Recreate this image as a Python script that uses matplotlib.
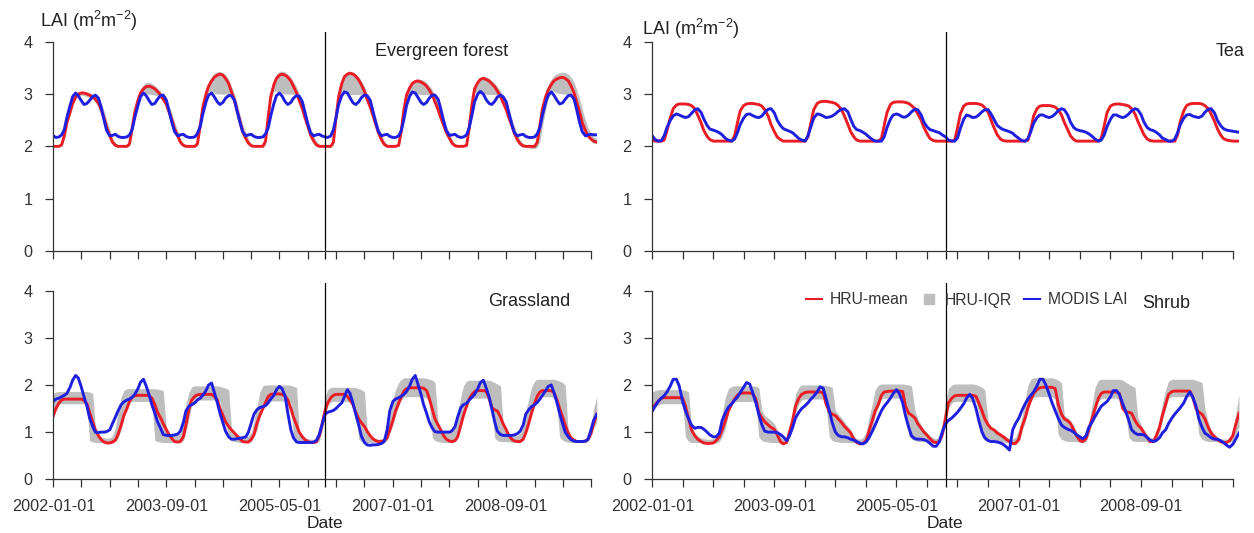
import pandas as pd
import matplotlib
matplotlib.use("Agg")
import matplotlib.pyplot as plt
import matplotlib.dates as mdates
from matplotlib.lines import Line2D

plt.rcParams['font.family'] = ['Liberation Sans', 'DejaVu Sans']
plt.rcParams['mathtext.default'] = 'regular'

# half-month steps (1st and 15th), 2002-01-01 .. 2010-01-01
dates = pd.date_range('2002-01-01', periods=193, freq='SMS')
split_date = pd.Timestamp('2006-01-01')
tick_dates = pd.date_range('2002-01-01', '2009-12-01', freq='5MS')
tick_labels = [d.strftime('%Y-%m-%d') if i % 4 == 0 else '' for i, d in enumerate(tick_dates)]

# ---- Evergreen forest ----
ever_mean = [
    2.00, 2.00, 2.00, 2.03, 2.20, 2.45, 2.65, 2.82, 2.94, 3.00, 3.02, 3.02, 3.00, 2.98, 2.95, 2.90, 2.82, 2.70, 2.54, 2.36, 2.20, 2.08, 2.02, 2.00,
    2.00, 2.00, 2.00, 2.05, 2.35, 2.65, 2.88, 3.02, 3.10, 3.14, 3.15, 3.13, 3.10, 3.05, 2.98, 2.90, 2.80, 2.66, 2.50, 2.33, 2.20, 2.08, 2.02, 2.00,
    2.00, 2.00, 2.00, 2.05, 2.40, 2.75, 3.00, 3.15, 3.25, 3.32, 3.36, 3.38, 3.36, 3.30, 3.20, 3.05, 2.88, 2.68, 2.47, 2.28, 2.15, 2.06, 2.01, 2.00,
    2.00, 2.00, 2.00, 2.10, 2.55, 2.95, 3.18, 3.30, 3.36, 3.38, 3.36, 3.32, 3.25, 3.15, 3.02, 2.88, 2.72, 2.55, 2.38, 2.22, 2.10, 2.03, 2.00, 2.00,
    2.00, 2.00, 2.00, 2.08, 2.55, 2.95, 3.20, 3.33, 3.38, 3.40, 3.38, 3.34, 3.27, 3.18, 3.05, 2.90, 2.75, 2.60, 2.42, 2.26, 2.12, 2.04, 2.00, 2.00,
    2.00, 2.00, 2.02, 2.30, 2.70, 2.98, 3.12, 3.20, 3.24, 3.25, 3.23, 3.20, 3.15, 3.08, 2.98, 2.85, 2.70, 2.55, 2.40, 2.27, 2.15, 2.06, 2.01, 2.00,
    2.00, 2.00, 2.02, 2.35, 2.80, 3.10, 3.22, 3.28, 3.30, 3.28, 3.25, 3.20, 3.14, 3.06, 2.96, 2.84, 2.70, 2.55, 2.40, 2.25, 2.12, 2.05, 2.01, 2.00,
    2.00, 2.00, 2.00, 2.08, 2.40, 2.72, 2.95, 3.08, 3.18, 3.25, 3.29, 3.31, 3.32, 3.30, 3.25, 3.16, 3.02, 2.85, 2.65, 2.45, 2.30, 2.20, 2.14, 2.10,
    2.08]
ever_modis = [
    2.20, 2.17, 2.18, 2.22, 2.32, 2.55, 2.78, 2.95, 3.02, 2.97, 2.87, 2.80, 2.82, 2.88, 2.95, 2.98, 2.92, 2.75, 2.50, 2.30, 2.20, 2.21, 2.23, 2.19,
    2.17, 2.17, 2.18, 2.22, 2.32, 2.55, 2.78, 2.95, 3.02, 2.97, 2.87, 2.80, 2.82, 2.90, 2.97, 2.98, 2.88, 2.68, 2.45, 2.28, 2.20, 2.22, 2.23, 2.19,
    2.17, 2.17, 2.18, 2.25, 2.38, 2.62, 2.85, 2.98, 3.02, 2.95, 2.85, 2.80, 2.84, 2.92, 2.97, 2.97, 2.88, 2.68, 2.45, 2.28, 2.20, 2.22, 2.23, 2.19,
    2.17, 2.17, 2.18, 2.24, 2.35, 2.58, 2.82, 2.97, 3.02, 2.96, 2.85, 2.80, 2.84, 2.92, 2.97, 2.96, 2.85, 2.65, 2.42, 2.26, 2.20, 2.22, 2.23, 2.20,
    2.18, 2.17, 2.20, 2.32, 2.55, 2.80, 2.97, 3.04, 3.02, 2.93, 2.83, 2.80, 2.85, 2.93, 2.98, 2.97, 2.88, 2.68, 2.45, 2.28, 2.20, 2.22, 2.23, 2.19,
    2.17, 2.17, 2.20, 2.30, 2.52, 2.78, 2.96, 3.04, 3.02, 2.94, 2.84, 2.80, 2.84, 2.92, 2.98, 2.98, 2.90, 2.72, 2.48, 2.30, 2.21, 2.22, 2.23, 2.19,
    2.17, 2.18, 2.22, 2.36, 2.60, 2.85, 3.00, 3.05, 3.00, 2.90, 2.82, 2.80, 2.86, 2.94, 2.98, 2.95, 2.85, 2.65, 2.42, 2.26, 2.20, 2.22, 2.23, 2.19,
    2.17, 2.17, 2.18, 2.24, 2.36, 2.60, 2.84, 2.98, 3.04, 2.98, 2.88, 2.81, 2.83, 2.90, 2.97, 2.98, 2.90, 2.70, 2.45, 2.28, 2.20, 2.22, 2.23, 2.22,
    2.22]
ever_hi = [
    2.03, 2.03, 2.03, 2.06, 2.25, 2.50, 2.70, 2.86, 2.97, 3.03, 3.05, 3.05, 3.04, 3.02, 2.99, 2.95, 2.90, 2.82, 2.68, 2.50, 2.32, 2.16, 2.06, 2.03,
    2.03, 2.03, 2.03, 2.08, 2.40, 2.72, 2.95, 3.10, 3.18, 3.22, 3.22, 3.20, 3.16, 3.11, 3.05, 2.98, 2.90, 2.78, 2.63, 2.46, 2.30, 2.15, 2.06, 2.03,
    2.03, 2.03, 2.03, 2.08, 2.45, 2.82, 3.08, 3.24, 3.33, 3.40, 3.43, 3.43, 3.41, 3.36, 3.28, 3.15, 3.00, 2.82, 2.61, 2.42, 2.26, 2.13, 2.05, 2.03,
    2.03, 2.03, 2.03, 2.13, 2.60, 3.02, 3.26, 3.38, 3.43, 3.44, 3.42, 3.38, 3.32, 3.24, 3.13, 3.00, 2.85, 2.68, 2.50, 2.34, 2.20, 2.10, 2.04, 2.03,
    2.03, 2.03, 2.03, 2.11, 2.60, 3.02, 3.26, 3.38, 3.42, 3.43, 3.41, 3.38, 3.33, 3.25, 3.14, 3.00, 2.86, 2.72, 2.55, 2.38, 2.22, 2.11, 2.04, 2.03,
    2.03, 2.03, 2.05, 2.35, 2.76, 3.04, 3.18, 3.25, 3.28, 3.29, 3.28, 3.26, 3.22, 3.16, 3.08, 2.97, 2.83, 2.68, 2.53, 2.39, 2.25, 2.13, 2.05, 2.03,
    2.03, 2.03, 2.05, 2.40, 2.86, 3.15, 3.27, 3.32, 3.34, 3.33, 3.30, 3.26, 3.21, 3.14, 3.06, 2.95, 2.82, 2.68, 2.53, 2.38, 2.22, 2.12, 2.05, 2.03,
    2.03, 2.03, 2.03, 2.12, 2.48, 2.82, 3.05, 3.18, 3.28, 3.35, 3.39, 3.41, 3.42, 3.41, 3.38, 3.32, 3.22, 3.08, 2.90, 2.70, 2.50, 2.35, 2.25, 2.18,
    2.15]
ever_lo = [
    2.00, 2.00, 2.00, 2.00, 2.15, 2.40, 2.60, 2.78, 2.90, 2.96, 2.98, 2.97, 2.95, 2.93, 2.90, 2.85, 2.77, 2.65, 2.49, 2.31, 2.16, 2.05, 2.00, 2.00,
    2.00, 2.00, 2.00, 2.00, 2.28, 2.58, 2.82, 2.96, 3.02, 3.00, 3.00, 2.99, 2.98, 2.96, 2.92, 2.86, 2.75, 2.62, 2.46, 2.29, 2.16, 2.05, 2.00, 2.00,
    2.00, 2.00, 2.00, 2.00, 2.32, 2.68, 2.94, 3.05, 3.05, 3.02, 3.00, 3.00, 3.00, 3.00, 2.99, 2.96, 2.84, 2.64, 2.43, 2.24, 2.11, 2.03, 2.00, 2.00,
    2.00, 2.00, 2.00, 2.03, 2.45, 2.88, 3.06, 3.05, 3.03, 3.01, 3.00, 3.00, 3.00, 2.99, 2.96, 2.84, 2.68, 2.51, 2.34, 2.18, 2.06, 2.00, 2.00, 2.00,
    2.00, 2.00, 2.00, 2.02, 2.45, 2.88, 3.06, 3.03, 3.00, 2.99, 2.99, 2.99, 2.99, 2.98, 2.96, 2.86, 2.71, 2.56, 2.38, 2.22, 2.08, 2.01, 2.00, 2.00,
    2.00, 2.00, 2.00, 2.22, 2.62, 2.92, 3.03, 3.02, 3.00, 3.00, 2.99, 2.99, 2.99, 2.98, 2.94, 2.81, 2.66, 2.51, 2.36, 2.23, 2.11, 2.03, 2.00, 2.00,
    2.00, 2.00, 2.00, 2.26, 2.72, 3.03, 3.03, 3.01, 3.00, 3.00, 2.99, 2.99, 2.99, 2.98, 2.92, 2.80, 2.66, 2.51, 2.36, 2.21, 2.08, 2.01, 2.00, 1.98,
    1.97, 1.96, 1.96, 1.98, 2.10, 2.40, 2.70, 2.92, 3.02, 3.05, 3.02, 3.01, 3.00, 3.00, 2.99, 2.98, 2.90, 2.76, 2.58, 2.40, 2.26, 2.16, 2.10, 2.06,
    2.05]

# ---- Tea ----
tea_mean = [
    2.12, 2.10, 2.10, 2.10, 2.12, 2.30, 2.55, 2.72, 2.79, 2.81, 2.81, 2.81, 2.80, 2.78, 2.72, 2.60, 2.45, 2.30, 2.19, 2.13, 2.10, 2.10, 2.10, 2.10,
    2.10, 2.10, 2.10, 2.20, 2.45, 2.68, 2.78, 2.81, 2.82, 2.82, 2.81, 2.80, 2.77, 2.70, 2.58, 2.42, 2.28, 2.18, 2.13, 2.10, 2.10, 2.10, 2.10, 2.10,
    2.10, 2.10, 2.10, 2.18, 2.45, 2.70, 2.82, 2.85, 2.86, 2.86, 2.85, 2.84, 2.82, 2.78, 2.70, 2.58, 2.42, 2.28, 2.18, 2.12, 2.10, 2.10, 2.10, 2.10,
    2.10, 2.10, 2.10, 2.15, 2.40, 2.65, 2.80, 2.84, 2.85, 2.85, 2.85, 2.84, 2.82, 2.78, 2.72, 2.62, 2.50, 2.36, 2.24, 2.15, 2.11, 2.10, 2.10, 2.10,
    2.10, 2.10, 2.10, 2.12, 2.35, 2.62, 2.77, 2.81, 2.82, 2.82, 2.82, 2.81, 2.79, 2.74, 2.65, 2.50, 2.34, 2.22, 2.14, 2.11, 2.10, 2.10, 2.10, 2.10,
    2.10, 2.10, 2.10, 2.12, 2.32, 2.58, 2.72, 2.77, 2.78, 2.78, 2.78, 2.77, 2.75, 2.70, 2.60, 2.46, 2.32, 2.20, 2.13, 2.10, 2.10, 2.10, 2.10, 2.10,
    2.10, 2.10, 2.10, 2.15, 2.40, 2.65, 2.77, 2.80, 2.81, 2.81, 2.80, 2.79, 2.77, 2.72, 2.62, 2.48, 2.34, 2.22, 2.14, 2.11, 2.10, 2.10, 2.10, 2.10,
    2.10, 2.10, 2.10, 2.10, 2.22, 2.48, 2.68, 2.78, 2.81, 2.82, 2.82, 2.82, 2.81, 2.78, 2.72, 2.62, 2.48, 2.34, 2.22, 2.15, 2.12, 2.11, 2.10, 2.10,
    2.10]
tea_modis = [
    2.20, 2.13, 2.10, 2.11, 2.20, 2.36, 2.50, 2.58, 2.62, 2.60, 2.57, 2.55, 2.57, 2.63, 2.70, 2.72, 2.65, 2.52, 2.40, 2.33, 2.31, 2.29, 2.26, 2.22,
    2.15, 2.12, 2.10, 2.14, 2.26, 2.42, 2.54, 2.61, 2.62, 2.59, 2.56, 2.55, 2.58, 2.65, 2.71, 2.72, 2.64, 2.50, 2.40, 2.34, 2.31, 2.29, 2.26, 2.21,
    2.15, 2.12, 2.10, 2.20, 2.38, 2.54, 2.62, 2.61, 2.58, 2.55, 2.56, 2.58, 2.62, 2.67, 2.71, 2.72, 2.66, 2.52, 2.38, 2.32, 2.30, 2.27, 2.23, 2.18,
    2.13, 2.10, 2.10, 2.10, 2.18, 2.36, 2.52, 2.60, 2.62, 2.60, 2.56, 2.56, 2.60, 2.66, 2.71, 2.70, 2.60, 2.46, 2.37, 2.32, 2.30, 2.28, 2.26, 2.22,
    2.18, 2.12, 2.10, 2.10, 2.16, 2.34, 2.52, 2.60, 2.58, 2.55, 2.56, 2.60, 2.66, 2.70, 2.70, 2.62, 2.50, 2.40, 2.35, 2.32, 2.30, 2.28, 2.25, 2.20,
    2.15, 2.11, 2.10, 2.15, 2.28, 2.44, 2.55, 2.60, 2.60, 2.57, 2.55, 2.57, 2.62, 2.68, 2.72, 2.70, 2.60, 2.46, 2.36, 2.32, 2.30, 2.29, 2.27, 2.24,
    2.19, 2.14, 2.10, 2.12, 2.22, 2.38, 2.52, 2.60, 2.60, 2.57, 2.55, 2.57, 2.62, 2.68, 2.72, 2.70, 2.60, 2.46, 2.36, 2.32, 2.30, 2.27, 2.22, 2.16,
    2.13, 2.10, 2.10, 2.14, 2.26, 2.42, 2.54, 2.60, 2.61, 2.58, 2.56, 2.55, 2.58, 2.65, 2.71, 2.72, 2.64, 2.50, 2.40, 2.34, 2.31, 2.30, 2.29, 2.28,
    2.27]

# ---- Grassland ----
grass_mean = [
    1.35, 1.50, 1.62, 1.68, 1.70, 1.70, 1.70, 1.70, 1.70, 1.70, 1.70, 1.67, 1.60, 1.42, 1.22, 1.05, 0.92, 0.84, 0.79, 0.77, 0.77, 0.79, 0.83, 0.95,
    1.15, 1.35, 1.50, 1.65, 1.74, 1.77, 1.78, 1.78, 1.78, 1.78, 1.77, 1.72, 1.58, 1.42, 1.30, 1.18, 1.05, 0.95, 0.86, 0.80, 0.79, 0.80, 0.90, 1.15,
    1.50, 1.68, 1.76, 1.79, 1.80, 1.80, 1.80, 1.80, 1.80, 1.76, 1.68, 1.50, 1.35, 1.22, 1.12, 1.05, 0.98, 0.92, 0.85, 0.80, 0.79, 0.79, 0.85, 0.95,
    1.20, 1.35, 1.50, 1.62, 1.75, 1.80, 1.81, 1.81, 1.81, 1.80, 1.76, 1.68, 1.50, 1.32, 1.15, 1.00, 0.90, 0.84, 0.80, 0.78, 0.78, 0.79, 0.92, 1.15,
    1.45, 1.62, 1.73, 1.78, 1.80, 1.80, 1.80, 1.80, 1.76, 1.68, 1.58, 1.42, 1.28, 1.20, 1.12, 1.02, 0.92, 0.86, 0.82, 0.80, 0.80, 0.82, 0.88, 1.05,
    1.25, 1.45, 1.62, 1.75, 1.87, 1.92, 1.94, 1.94, 1.94, 1.94, 1.94, 1.93, 1.88, 1.72, 1.48, 1.28, 1.15, 1.05, 0.92, 0.85, 0.81, 0.80, 0.82, 0.90,
    1.15, 1.35, 1.55, 1.70, 1.80, 1.86, 1.88, 1.88, 1.88, 1.87, 1.72, 1.52, 1.47, 1.45, 1.32, 1.18, 1.05, 0.93, 0.85, 0.81, 0.80, 0.80, 0.85, 0.98,
    1.20, 1.40, 1.62, 1.76, 1.85, 1.88, 1.88, 1.88, 1.88, 1.84, 1.68, 1.50, 1.32, 1.15, 0.98, 0.88, 0.83, 0.80, 0.80, 0.80, 0.81, 0.85, 0.98, 1.18,
    1.38]
grass_modis = [
    1.65, 1.70, 1.72, 1.75, 1.78, 1.82, 1.95, 2.10, 2.20, 2.15, 1.95, 1.75, 1.55, 1.30, 1.12, 1.00, 0.99, 1.00, 1.00, 1.01, 1.05, 1.18, 1.32, 1.45,
    1.58, 1.64, 1.68, 1.70, 1.74, 1.80, 1.92, 2.06, 2.12, 1.98, 1.78, 1.58, 1.40, 1.22, 1.08, 0.95, 0.93, 0.93, 0.93, 0.94, 0.96, 1.02, 1.20, 1.45,
    1.55, 1.58, 1.62, 1.68, 1.72, 1.78, 1.88, 2.00, 2.04, 1.85, 1.62, 1.40, 1.20, 1.02, 0.90, 0.85, 0.85, 0.86, 0.87, 0.88, 0.90, 1.00, 1.20, 1.38,
    1.48, 1.52, 1.54, 1.56, 1.62, 1.70, 1.78, 1.90, 1.97, 1.92, 1.75, 1.40, 1.05, 0.88, 0.79, 0.78, 0.78, 0.78, 0.78, 0.78, 0.79, 0.82, 0.95, 1.15,
    1.38, 1.42, 1.44, 1.46, 1.50, 1.56, 1.62, 1.75, 1.90, 1.82, 1.60, 1.38, 1.15, 0.92, 0.78, 0.73, 0.72, 0.73, 0.73, 0.74, 0.76, 0.80, 1.05, 1.45,
    1.65, 1.70, 1.73, 1.76, 1.80, 1.86, 1.98, 2.12, 2.20, 2.02, 1.80, 1.58, 1.40, 1.22, 1.08, 1.01, 1.00, 1.00, 1.00, 1.00, 1.00, 1.03, 1.12, 1.32,
    1.52, 1.58, 1.61, 1.68, 1.74, 1.80, 1.92, 2.05, 2.10, 1.95, 1.75, 1.50, 1.22, 1.02, 0.95, 0.93, 0.93, 0.93, 0.93, 0.94, 0.97, 1.02, 1.15, 1.38,
    1.48, 1.54, 1.58, 1.63, 1.70, 1.78, 1.88, 1.97, 2.00, 1.85, 1.62, 1.40, 1.18, 1.00, 0.90, 0.84, 0.81, 0.80, 0.80, 0.80, 0.81, 0.85, 1.05, 1.25,
    1.38]
grass_hi = [
    1.82, 1.85, 1.86, 1.86, 1.86, 1.86, 1.86, 1.86, 1.86, 1.86, 1.86, 1.86, 1.86, 1.85, 1.82, 1.10, 0.95, 0.90, 0.88, 0.87, 0.88, 0.92, 1.10, 1.45,
    1.75, 1.88, 1.92, 1.92, 1.92, 1.92, 1.92, 1.92, 1.92, 1.92, 1.92, 1.92, 1.92, 1.91, 1.90, 1.88, 1.05, 0.96, 0.95, 0.95, 0.95, 0.98, 1.20, 1.60,
    1.85, 1.96, 1.98, 1.98, 1.98, 1.98, 1.98, 1.98, 1.98, 1.98, 1.98, 1.97, 1.95, 1.93, 1.90, 1.10, 1.00, 0.95, 0.92, 0.90, 0.90, 0.92, 1.00, 1.25,
    1.55, 1.85, 1.98, 2.00, 2.00, 2.00, 2.00, 2.00, 2.00, 2.00, 2.00, 2.00, 1.99, 1.97, 1.95, 1.00, 0.92, 0.88, 0.86, 0.85, 0.85, 0.87, 0.95, 1.30,
    1.75, 1.90, 1.95, 1.95, 1.95, 1.95, 1.95, 1.95, 1.95, 1.95, 1.95, 1.94, 1.92, 1.90, 1.85, 1.05, 0.95, 0.88, 0.85, 0.85, 0.86, 0.88, 1.00, 1.35,
    1.70, 1.90, 2.05, 2.12, 2.15, 2.15, 2.15, 2.15, 2.15, 2.15, 2.15, 2.15, 2.14, 2.12, 2.10, 2.05, 1.18, 1.08, 1.00, 1.00, 1.00, 1.02, 1.10, 1.40,
    1.75, 1.98, 2.08, 2.10, 2.10, 2.10, 2.10, 2.10, 2.10, 2.10, 2.10, 2.08, 2.05, 2.02, 1.98, 1.20, 1.05, 0.95, 0.92, 0.92, 0.93, 0.98, 1.10, 1.45,
    1.70, 1.95, 2.08, 2.12, 2.12, 2.12, 2.12, 2.12, 2.12, 2.12, 2.10, 2.08, 2.05, 2.00, 0.95, 0.88, 0.85, 0.84, 0.84, 0.84, 0.85, 0.88, 1.10, 1.50,
    1.75]
grass_lo = [
    1.30, 1.45, 1.60, 1.60, 1.60, 1.60, 1.60, 1.60, 1.60, 1.60, 1.60, 1.60, 1.55, 0.82, 0.79, 0.78, 0.78, 0.78, 0.77, 0.76, 0.76, 0.77, 0.80, 0.88,
    1.05, 1.30, 1.52, 1.63, 1.65, 1.65, 1.65, 1.65, 1.65, 1.65, 1.65, 1.62, 0.82, 0.80, 0.79, 0.78, 0.78, 0.78, 0.78, 0.78, 0.78, 0.79, 0.82, 1.00,
    1.30, 1.58, 1.66, 1.68, 1.68, 1.68, 1.68, 1.68, 1.68, 1.68, 1.68, 1.65, 1.30, 1.15, 0.95, 0.82, 0.80, 0.79, 0.78, 0.78, 0.78, 0.78, 0.80, 0.90,
    1.05, 1.30, 1.55, 1.65, 1.66, 1.66, 1.66, 1.66, 1.66, 1.66, 1.66, 1.65, 1.62, 0.90, 0.82, 0.80, 0.80, 0.79, 0.78, 0.78, 0.78, 0.78, 0.82, 1.00,
    1.30, 1.55, 1.64, 1.65, 1.65, 1.65, 1.65, 1.65, 1.65, 1.64, 1.60, 1.52, 0.85, 0.80, 0.79, 0.78, 0.78, 0.78, 0.78, 0.78, 0.78, 0.79, 0.82, 0.98,
    1.15, 1.35, 1.55, 1.68, 1.74, 1.75, 1.75, 1.75, 1.75, 1.75, 1.75, 1.74, 1.72, 1.62, 0.88, 0.82, 0.80, 0.79, 0.78, 0.78, 0.78, 0.78, 0.80, 0.88,
    1.10, 1.32, 1.55, 1.68, 1.72, 1.72, 1.72, 1.72, 1.72, 1.72, 1.68, 1.50, 0.88, 0.82, 0.80, 0.80, 0.80, 0.79, 0.79, 0.79, 0.79, 0.79, 0.82, 0.95,
    1.15, 1.38, 1.60, 1.72, 1.75, 1.75, 1.75, 1.75, 1.75, 1.72, 1.55, 0.90, 0.83, 0.80, 0.79, 0.78, 0.78, 0.78, 0.78, 0.78, 0.78, 0.80, 0.90, 1.08,
    1.20]

# ---- Shrub ----
shrub_mean = [
    1.50, 1.58, 1.66, 1.72, 1.73, 1.73, 1.73, 1.73, 1.73, 1.73, 1.72, 1.55, 1.28, 1.05, 0.92, 0.85, 0.80, 0.77, 0.76, 0.76, 0.77, 0.82, 0.90, 1.05,
    1.25, 1.45, 1.60, 1.70, 1.78, 1.82, 1.83, 1.83, 1.83, 1.82, 1.70, 1.42, 1.30, 1.22, 1.15, 1.10, 1.06, 0.95, 0.80, 0.75, 0.78, 1.00, 1.25, 1.55,
    1.72, 1.80, 1.84, 1.85, 1.85, 1.85, 1.85, 1.85, 1.84, 1.60, 1.43, 1.38, 1.35, 1.28, 1.20, 1.12, 1.05, 0.98, 0.85, 0.78, 0.75, 0.76, 0.82, 1.02,
    1.25, 1.45, 1.60, 1.78, 1.85, 1.86, 1.87, 1.87, 1.87, 1.87, 1.86, 1.55, 1.40, 1.36, 1.30, 1.18, 1.08, 1.00, 0.93, 0.86, 0.79, 0.78, 0.80, 0.95,
    1.30, 1.62, 1.72, 1.77, 1.78, 1.78, 1.78, 1.78, 1.78, 1.78, 1.76, 1.62, 1.45, 1.28, 1.15, 1.08, 1.04, 0.98, 0.94, 0.90, 0.84, 0.80, 0.76, 0.76,
    0.85, 1.10, 1.30, 1.52, 1.68, 1.82, 1.90, 1.94, 1.95, 1.95, 1.95, 1.95, 1.92, 1.60, 1.38, 1.28, 1.24, 1.18, 1.05, 0.92, 0.82, 0.80, 0.86, 1.05,
    1.30, 1.50, 1.72, 1.82, 1.85, 1.85, 1.85, 1.85, 1.85, 1.82, 1.50, 1.43, 1.42, 1.40, 1.25, 1.15, 1.08, 0.98, 0.88, 0.80, 0.80, 0.92, 1.10, 1.35,
    1.60, 1.80, 1.86, 1.87, 1.87, 1.87, 1.87, 1.87, 1.87, 1.75, 1.50, 1.42, 1.38, 1.28, 1.10, 0.98, 0.90, 0.84, 0.80, 0.78, 0.78, 0.82, 0.92, 1.15,
    1.40]
shrub_modis = [
    1.45, 1.55, 1.66, 1.72, 1.77, 1.85, 1.98, 2.12, 2.12, 1.98, 1.65, 1.45, 1.28, 1.15, 1.08, 1.10, 1.10, 1.06, 1.00, 0.94, 0.90, 0.90, 0.98, 1.25,
    1.42, 1.53, 1.60, 1.68, 1.74, 1.84, 1.95, 2.05, 2.02, 1.85, 1.62, 1.38, 1.15, 1.02, 1.00, 1.00, 1.00, 0.99, 0.95, 0.90, 0.82, 0.92, 1.10, 1.30,
    1.42, 1.50, 1.56, 1.62, 1.70, 1.76, 1.85, 1.96, 1.93, 1.72, 1.45, 1.20, 1.00, 0.93, 0.90, 0.90, 0.88, 0.85, 0.83, 0.80, 0.76, 0.75, 0.79, 0.88,
    1.02, 1.15, 1.32, 1.45, 1.55, 1.62, 1.72, 1.82, 1.90, 1.82, 1.62, 1.35, 1.10, 0.92, 0.86, 0.85, 0.85, 0.84, 0.81, 0.76, 0.70, 0.70, 0.80, 1.00,
    1.18, 1.25, 1.30, 1.36, 1.42, 1.50, 1.60, 1.72, 1.80, 1.72, 1.50, 1.25, 1.00, 0.88, 0.82, 0.80, 0.80, 0.79, 0.77, 0.74, 0.68, 0.62, 1.05, 1.18,
    1.30, 1.45, 1.60, 1.70, 1.78, 1.85, 1.98, 2.12, 2.12, 2.00, 1.80, 1.62, 1.45, 1.30, 1.15, 1.10, 1.06, 1.04, 1.00, 0.94, 0.90, 0.86, 0.92, 1.10,
    1.22, 1.33, 1.45, 1.55, 1.60, 1.65, 1.75, 1.88, 1.88, 1.80, 1.60, 1.45, 1.25, 1.05, 0.98, 0.95, 0.95, 0.94, 0.88, 0.83, 0.80, 0.82, 0.88, 0.98,
    1.05, 1.18, 1.30, 1.38, 1.45, 1.52, 1.62, 1.75, 1.85, 1.75, 1.55, 1.28, 1.10, 0.98, 0.93, 0.88, 0.85, 0.85, 0.82, 0.78, 0.72, 0.68, 0.74, 0.85,
    0.98]
shrub_hi = [
    1.85, 1.88, 1.90, 1.90, 1.90, 1.90, 1.90, 1.90, 1.90, 1.90, 1.90, 1.88, 1.85, 1.10, 0.98, 0.92, 0.88, 0.86, 0.85, 0.85, 0.86, 0.90, 1.05, 1.40,
    1.75, 1.92, 1.97, 1.98, 1.98, 1.98, 1.98, 1.98, 1.98, 1.98, 1.97, 1.95, 1.45, 1.35, 1.30, 1.25, 1.18, 1.05, 0.90, 0.85, 0.88, 1.10, 1.45, 1.80,
    1.95, 2.00, 2.00, 2.00, 2.00, 2.00, 2.00, 2.00, 2.00, 1.99, 1.97, 1.95, 1.45, 1.38, 1.30, 1.22, 1.12, 1.05, 0.92, 0.86, 0.85, 0.88, 1.00, 1.30,
    1.60, 1.90, 2.00, 2.02, 2.02, 2.02, 2.02, 2.02, 2.02, 2.02, 2.02, 2.01, 2.00, 1.98, 1.45, 1.28, 1.15, 1.06, 0.98, 0.92, 0.88, 0.86, 0.92, 1.15,
    1.65, 1.92, 2.00, 2.02, 2.02, 2.02, 2.02, 2.02, 2.02, 2.02, 2.01, 1.98, 1.95, 1.90, 1.20, 1.12, 1.08, 1.03, 0.98, 0.95, 0.90, 0.86, 0.85, 0.90,
    1.05, 1.30, 1.70, 2.00, 2.12, 2.15, 2.15, 2.15, 2.15, 2.15, 2.15, 2.15, 2.13, 2.10, 2.05, 1.35, 1.30, 1.25, 1.12, 1.00, 0.90, 0.86, 0.95, 1.20,
    1.60, 1.95, 2.10, 2.12, 2.12, 2.12, 2.12, 2.12, 2.12, 2.12, 2.10, 2.06, 2.02, 1.98, 1.95, 1.30, 1.15, 1.05, 0.95, 0.88, 0.88, 1.00, 1.25, 1.60,
    1.90, 2.08, 2.12, 2.12, 2.12, 2.12, 2.12, 2.12, 2.12, 2.12, 2.10, 2.08, 2.05, 1.50, 1.20, 1.05, 0.96, 0.90, 0.86, 0.85, 0.85, 0.88, 1.00, 1.35,
    1.80]
shrub_lo = [
    1.40, 1.52, 1.58, 1.60, 1.60, 1.60, 1.60, 1.60, 1.60, 1.60, 1.60, 0.90, 0.80, 0.78, 0.78, 0.78, 0.78, 0.77, 0.76, 0.76, 0.76, 0.77, 0.80, 0.90,
    1.10, 1.40, 1.58, 1.64, 1.65, 1.65, 1.65, 1.65, 1.65, 1.65, 1.62, 0.90, 0.82, 0.80, 0.79, 0.78, 0.78, 0.78, 0.77, 0.75, 0.76, 0.88, 1.10, 1.40,
    1.60, 1.68, 1.70, 1.70, 1.70, 1.70, 1.70, 1.70, 1.70, 1.55, 0.90, 0.82, 0.80, 0.79, 0.78, 0.78, 0.78, 0.78, 0.78, 0.76, 0.75, 0.75, 0.78, 0.90,
    1.10, 1.35, 1.55, 1.70, 1.72, 1.72, 1.72, 1.72, 1.72, 1.72, 1.72, 1.50, 0.92, 0.85, 0.82, 0.80, 0.80, 0.80, 0.80, 0.79, 0.78, 0.77, 0.78, 0.88,
    1.15, 1.50, 1.62, 1.65, 1.65, 1.65, 1.65, 1.65, 1.65, 1.65, 1.63, 1.40, 0.90, 0.82, 0.80, 0.80, 0.80, 0.80, 0.80, 0.79, 0.78, 0.76, 0.75, 0.75,
    0.80, 1.00, 1.22, 1.45, 1.65, 1.74, 1.75, 1.75, 1.75, 1.75, 1.75, 1.75, 1.70, 0.95, 0.85, 0.82, 0.80, 0.80, 0.80, 0.80, 0.78, 0.78, 0.80, 0.95,
    1.20, 1.42, 1.65, 1.72, 1.72, 1.72, 1.72, 1.72, 1.72, 1.70, 1.48, 1.40, 0.90, 0.82, 0.80, 0.80, 0.80, 0.80, 0.80, 0.78, 0.78, 0.85, 1.00, 1.25,
    1.50, 1.72, 1.75, 1.75, 1.75, 1.75, 1.75, 1.75, 1.75, 1.72, 1.50, 0.95, 0.85, 0.82, 0.80, 0.80, 0.80, 0.80, 0.79, 0.78, 0.78, 0.78, 0.82, 0.95,
    1.10]

RED = '#ea1c24'
BLUE = '#1f1fe0'
GREY = '#bebebe'
AXC = '#333333'

fig = plt.figure(figsize=(12.54, 5.33), dpi=100)
W, H = 1254.0, 533.0


def panel(left_px, width_px, top_px, bottom_px, ytop, mean, modis, lo=None, hi=None, xlabels=False):
    ax = fig.add_axes([left_px / W, 1 - bottom_px / H, width_px / W, (bottom_px - top_px) / H])
    if lo is not None:
        ax.fill_between(dates, lo, hi, color=GREY, lw=0)
    ax.plot(dates, mean, color=RED, lw=2.1)
    ax.plot(dates, modis, color=BLUE, lw=2.1)
    ax.axvline(split_date, color='black', lw=0.9)
    ax.set_xlim(dates[0], dates[-1])
    ax.set_ylim(0, ytop)
    for s in ['top', 'right']:
        ax.spines[s].set_visible(False)
    for s in ['left', 'bottom']:
        ax.spines[s].set_color(AXC)
        ax.spines[s].set_linewidth(0.9)
    ax.spines['left'].set_bounds(0, 4)
    ax.spines['bottom'].set_bounds(mdates.date2num(tick_dates[0]), mdates.date2num(tick_dates[-1]))
    ax.set_yticks([0, 1, 2, 3, 4])
    ax.set_xticks(tick_dates)
    ax.set_xticks([split_date], minor=True)
    if xlabels:
        ax.set_xticklabels(tick_labels)
    else:
        ax.set_xticklabels([])
    ax.tick_params(axis='both', which='both', direction='out', length=6, width=0.9,
                   color=AXC, labelcolor=AXC, labelsize=11.7)
    ax.tick_params(axis='x', which='minor', color='black')
    ax.tick_params(axis='y', pad=9)
    ax.tick_params(axis='x', pad=8)
    return ax


panel(53.3, 543.5, 32.3, 251, 4.18, ever_mean, ever_modis, ever_lo, ever_hi)
panel(652.3, 586.7, 32.3, 251, 4.18, tea_mean, tea_modis)
panel(53.3, 543.5, 283, 479.3, 4.16, grass_mean, grass_modis, grass_lo, grass_hi, xlabels=True)
panel(652.3, 586.7, 283, 479.3, 4.16, shrub_mean, shrub_modis, shrub_lo, shrub_hi, xlabels=True)


def ftext(x, y, s, **kw):
    fig.text(x / W, 1 - y / H, s, va='center', **kw)


lai = 'LAI (m$^{2}$m$^{-2}$)'
ftext(40, 21, lai, ha='left', fontsize=13, color='#222222')
ftext(642, 29, lai, ha='left', fontsize=13, color='#222222')
ftext(441.7, 51.5, 'Evergreen forest', ha='center', fontsize=13, color='#222222')
ftext(1230, 51, 'Tea', ha='center', fontsize=13, color='#222222')
ftext(529, 302, 'Grassland', ha='center', fontsize=13, color='#222222')
ftext(1166, 303, 'Shrub', ha='center', fontsize=13, color='#222222')
ftext(325, 524, 'Date', ha='center', fontsize=12.5, color='#222222')
ftext(945, 524, 'Date', ha='center', fontsize=12.5, color='#222222')

handles = [Line2D([], [], color=RED, lw=1.5),
           Line2D([], [], color=GREY, marker='s', markersize=7, lw=0),
           Line2D([], [], color=BLUE, lw=1.5)]
leg = fig.legend(handles, ['HRU-mean', 'HRU-IQR', 'MODIS LAI'], loc='center left',
                 bbox_to_anchor=(806 / W, 1 - 300 / H), ncol=3, frameon=False,
                 fontsize=11.3, handlelength=1.0, handletextpad=0.5, columnspacing=0.8,
                 borderpad=0, borderaxespad=0)
for t in leg.get_texts():
    t.set_color('#333333')

fig.savefig('out.png', dpi=100, facecolor='white')
